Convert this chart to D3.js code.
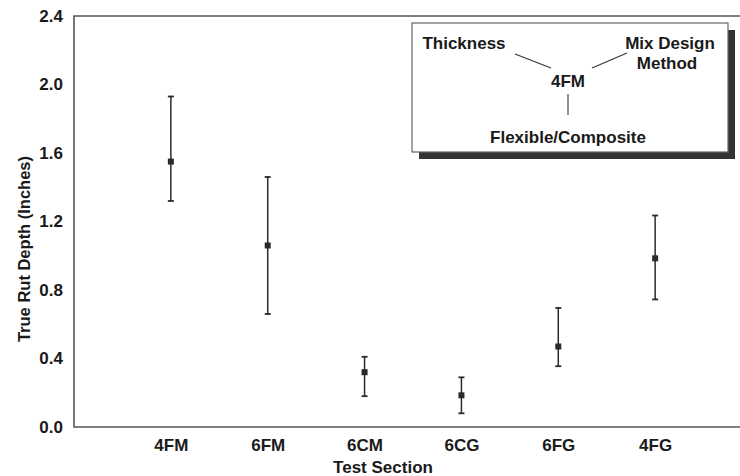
<!DOCTYPE html>
<meta charset="utf-8">
<style>
body { margin: 0; background: #fff; }
svg text { font-family: "Liberation Sans", Arial, sans-serif; font-weight: bold; fill: #1a1a1a; }
</style>
<body>
<svg width="740" height="476"></svg>
<script src="https://cdn.jsdelivr.net/npm/d3@7"></script>
<script>

var sections = ["4FM", "6FM", "6CM", "6CG", "6FG", "4FG"];
var meanDepth = [1.55, 1.06, 0.32, 0.185, 0.47, 0.985];
var upperDepth = [1.93, 1.46, 0.41, 0.29, 0.695, 1.235];
var lowerDepth = [1.32, 0.66, 0.18, 0.08, 0.355, 0.745];
var yTicks = [0, 0.4, 0.8, 1.2, 1.6, 2.0, 2.4];

var svg = d3.select("svg");

var plotLeft = 74, plotTop = 16, plotBottom = 427, plotRight = 752;

var x = d3.scalePoint()
    .domain(sections)
    .range([plotLeft, plotRight])
    .padding(1);

var y = d3.scaleLinear()
    .domain([0, 2.4])
    .range([plotBottom, plotTop]);

// frame (right side runs off the page)
svg.append("path")
    .attr("d", "M740," + plotTop + "H" + plotLeft + "V" + plotBottom + "H740")
    .attr("fill", "none")
    .attr("stroke", "#555")
    .attr("stroke-width", 1.6);

// y axis labels
var yAxis = svg.append("g")
    .attr("transform", "translate(" + plotLeft + ",0)")
    .call(d3.axisLeft(y).tickValues(yTicks).tickSize(0).tickPadding(11)
      .tickFormat(d3.format(".1f")));
yAxis.select(".domain").remove();
yAxis.selectAll("text")
    .style("font-size", "17px")
    .style("font-family", "Liberation Sans, Arial, sans-serif")
    .style("font-weight", "bold")
    .attr("fill", "#1a1a1a");

// x axis labels
var xAxis = svg.append("g")
    .attr("transform", "translate(0," + plotBottom + ")")
    .call(d3.axisBottom(x).tickSize(0).tickPadding(12));
xAxis.select(".domain").remove();
xAxis.selectAll("text")
    .style("font-size", "17px")
    .style("font-family", "Liberation Sans, Arial, sans-serif")
    .style("font-weight", "bold")
    .attr("fill", "#1a1a1a");

svg.append("text")
    .attr("x", 383)
    .attr("y", 473)
    .attr("text-anchor", "middle")
    .style("font-size", "17px")
    .text("Test Section");

svg.append("text")
    .attr("transform", "translate(30,249) rotate(-90)")
    .attr("text-anchor", "middle")
    .style("font-size", "16.5px")
    .text("True Rut Depth (Inches)");

// error bars
var bars = svg.append("g").selectAll("g")
    .data(sections)
    .enter().append("g");

bars.append("line")
    .attr("x1", function(d) { return x(d); })
    .attr("x2", function(d) { return x(d); })
    .attr("y1", function(d, i) { return y(upperDepth[i]); })
    .attr("y2", function(d, i) { return y(lowerDepth[i]); })
    .attr("stroke", "#2a2a2a")
    .attr("stroke-width", 1.5);

[upperDepth, lowerDepth].forEach(function(arr) {
  bars.append("line")
      .attr("x1", function(d) { return x(d) - 3; })
      .attr("x2", function(d) { return x(d) + 3; })
      .attr("y1", function(d, i) { return y(arr[i]); })
      .attr("y2", function(d, i) { return y(arr[i]); })
      .attr("stroke", "#2a2a2a")
      .attr("stroke-width", 1.8);
});

bars.append("rect")
    .attr("x", function(d) { return x(d) - 3; })
    .attr("y", function(d, i) { return y(meanDepth[i]) - 3; })
    .attr("width", 6)
    .attr("height", 6)
    .attr("fill", "#2a2a2a");

// key box
var key = svg.append("g");
key.append("rect")
    .attr("x", 419).attr("y", 30)
    .attr("width", 316).attr("height", 129)
    .attr("fill", "#333");
key.append("rect")
    .attr("x", 412).attr("y", 23)
    .attr("width", 316).attr("height", 129)
    .attr("fill", "#fff")
    .attr("stroke", "#666")
    .attr("stroke-width", 1.2);

var keyText = [
  ["Thickness", 464, 49],
  ["Mix Design", 670, 49],
  ["Method", 667, 69],
  ["4FM", 568, 87],
  ["Flexible/Composite", 568, 143]
];
key.selectAll("text.k")
    .data(keyText)
    .enter().append("text")
    .attr("class", "k")
    .attr("x", function(d) { return d[1]; })
    .attr("y", function(d) { return d[2]; })
    .attr("text-anchor", "middle")
    .style("font-size", "17px")
    .text(function(d) { return d[0]; });

var keyLines = [[515, 54, 551, 68], [592, 68, 627, 53], [568, 94, 568, 115]];
key.selectAll("line")
    .data(keyLines)
    .enter().append("line")
    .attr("x1", function(d) { return d[0]; })
    .attr("y1", function(d) { return d[1]; })
    .attr("x2", function(d) { return d[2]; })
    .attr("y2", function(d) { return d[3]; })
    .attr("stroke", "#333")
    .attr("stroke-width", 1.1);

</script>
</body>
